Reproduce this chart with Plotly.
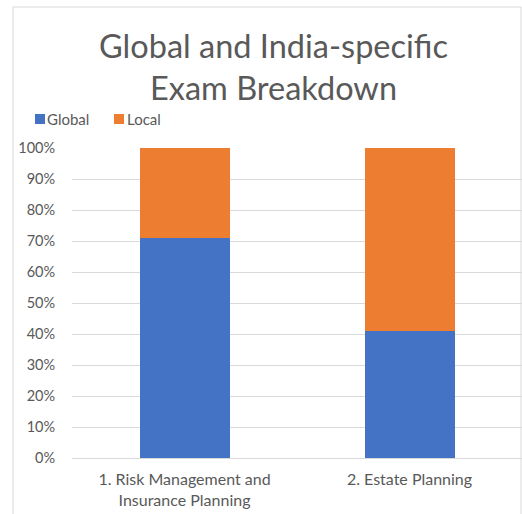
import plotly.graph_objects as go

categories = ["1. Risk Management and<br>Insurance Planning", "2. Estate Planning"]
series_names = ["Global", "Local"]
global_vals = [71, 41]
local_vals = [29, 59]
tick_vals = [0, 10, 20, 30, 40, 50, 60, 70, 80, 90, 100]
tick_text = [f"{v}%" for v in tick_vals]

GREY = "#595959"
FONT = "Lato"
COLORS = ["#4472C4", "#ED7D31"]

# plot area in page pixels
L, R, T, B = 72, 522, 148, 458
W, H = 522, 514
PW, PH = R - L, B - T


def px(x):
    return (x - L) / PW


def py(y):
    return (B - y) / PH


fig = go.Figure()
fig.add_trace(go.Bar(name=series_names[0], x=categories, y=global_vals, marker_color=COLORS[0],
                     marker_line_width=0, width=0.4))
fig.add_trace(go.Bar(name=series_names[1], x=categories, y=local_vals, marker_color=COLORS[1],
                     marker_line_width=0, width=0.4))

fig.update_layout(
    barmode="stack",
    width=W, height=H,
    margin=dict(l=L, r=W - R, t=T, b=H - B, pad=0),
    paper_bgcolor="white", plot_bgcolor="white",
    font=dict(family=FONT, color=GREY, size=14),
    showlegend=False,
)
fig.update_yaxes(range=[0, 100], tickvals=tick_vals, ticktext=tick_text,
                 showgrid=True, gridcolor="#d9d9d9", gridwidth=1, zeroline=False,
                 showline=False, ticks="outside", ticklen=13, tickcolor="rgba(0,0,0,0)",
                 tickfont=dict(size=14.5, color=GREY), fixedrange=True)
fig.update_xaxes(showline=True, linecolor="#d9d9d9", linewidth=1, ticks="outside",
                 ticklen=7, tickcolor="rgba(0,0,0,0)",
                 tickfont=dict(size=16, color=GREY), fixedrange=True)

# title lines
fig.add_annotation(text="Global and India-specific", xref="paper", yref="paper",
                   x=px(273), y=py(46), xanchor="center", yanchor="middle",
                   showarrow=False, font=dict(size=32.5, color=GREY, family=FONT))
fig.add_annotation(text="Exam Breakdown", xref="paper", yref="paper",
                   x=px(273), y=py(88), xanchor="center", yanchor="middle",
                   showarrow=False, font=dict(size=32.5, color=GREY, family=FONT))

# manual legend
leg_items = [(35, 47), (114, 127)]
for (sx, tx), name, col in zip(leg_items, series_names, COLORS):
    fig.add_shape(type="rect", xref="paper", yref="paper",
                  x0=px(sx), x1=px(sx + 10), y0=py(124), y1=py(114),
                  line=dict(width=0), fillcolor=col)
    fig.add_annotation(text=name, xref="paper", yref="paper", x=px(tx - 2), y=py(119),
                       xanchor="left", yanchor="middle", showarrow=False,
                       font=dict(size=15, color=GREY, family=FONT))

# outer chart border
fig.add_shape(type="rect", xref="paper", yref="paper",
              x0=px(13), x1=px(521), y0=py(530), y1=py(7),
              line=dict(color="#d9d9d9", width=1), fillcolor="rgba(0,0,0,0)", layer="below")

fig.write_html("out.html", config={"displayModeBar": False},
               post_script="document.body.style.margin='0';document.body.style.padding='0';")
